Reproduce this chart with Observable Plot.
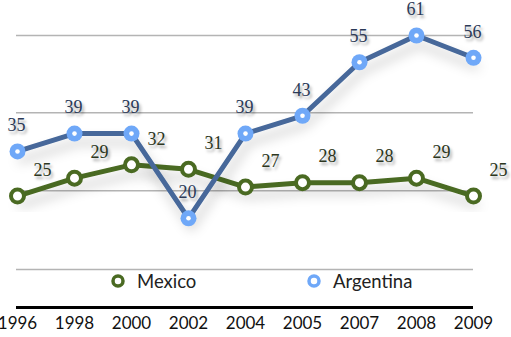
<!DOCTYPE html>
<html>
<head>
<meta charset="utf-8">
<script src="https://cdn.jsdelivr.net/npm/d3@7"></script>
<script src="https://cdn.jsdelivr.net/npm/@observablehq/plot@0.6"></script>
<style>
  body { margin: 0; background: #fff; }
  #wrap { position: relative; width: 511px; height: 337px; overflow: hidden; }
  #legend { position: absolute; top: 269px; left: 0; width: 511px; height: 24px; font-family: Lato, sans-serif; font-size: 18.5px; color: #222; }
  #legend .item { position: absolute; top: 0; display: flex; align-items: center; height: 24px; }
  #legend svg { margin-right: 11px; }
  .lbl text { text-shadow: 2px 3px 3px rgba(0,0,0,0.35); }
</style>
</head>
<body>
<div id="wrap"></div>
<script>
const years = ["1996","1998","2000","2002","2004","2005","2007","2008","2009"];
const mexico = [25, 29, 32, 31, 27, 28, 28, 29, 25];
const argentina = [35, 39, 39, 20, 39, 43, 55, 61, 56];
const gridValues = [8.5, 26.2, 43.7, 61];
const seriesNames = ["Mexico", "Argentina"];
const lineColors = {Mexico: "#4a6a22", Argentina: "#46689a"};
const dotColors = {Mexico: "#4a6a22", Argentina: "#6fa8f8"};
const labelColors = {Mexico: "#2c3620", Argentina: "#2b3a58"};

const mex = years.map((y, i) => ({year: y, value: mexico[i], series: "Mexico"}));
const arg = years.map((y, i) => ({year: y, value: argentina[i], series: "Argentina"}));

const chart = Plot.plot({
  width: 511,
  height: 337,
  marginLeft: 16,
  marginRight: 38,
  marginTop: 35,
  marginBottom: 30,
  style: {background: "transparent", overflow: "visible"},
  x: {type: "point", domain: years, padding: 0, label: null},
  y: {domain: [0, 61], axis: null},
  marks: [
    Plot.ruleY(gridValues, {stroke: "#b4b4b4", strokeWidth: 1.5}),
    Plot.ruleY([0], {stroke: "#000", strokeWidth: 3}),
    Plot.axisX({tickSize: 0, tickPadding: 9, fontSize: 17, fontFamily: "Lato, sans-serif", color: "#111", label: null}),
    Plot.line(mex, {x: "year", y: "value", stroke: lineColors.Mexico, strokeWidth: 5, className: "shadow"}),
    Plot.line(arg, {x: "year", y: "value", stroke: lineColors.Argentina, strokeWidth: 5, className: "shadow"}),
    Plot.dot(mex, {x: "year", y: "value", r: 6.5, fill: "#fff", stroke: dotColors.Mexico, strokeWidth: 4}),
    Plot.dot(arg, {x: "year", y: "value", r: 8, fill: dotColors.Argentina}),
    Plot.dot(arg, {x: "year", y: "value", r: 2.3, fill: "#fff"}),
    Plot.text(arg, {x: "year", y: "value", text: d => String(d.value), dx: -1, dy: -26, fill: labelColors.Argentina, fontSize: 18, fontFamily: "'Liberation Serif', serif", className: "lbl"}),
    Plot.text(mex, {x: "year", y: "value", text: d => String(d.value), dx: 25, dy: -26, fill: labelColors.Mexico, fontSize: 18, fontFamily: "'Liberation Serif', serif", className: "lbl"})
  ]
});

// drop shadow filter for lines
const svgNS = "http://www.w3.org/2000/svg";
const defs = document.createElementNS(svgNS, "defs");
defs.innerHTML = '<filter id="ds" x="-20%" y="-50%" width="140%" height="200%"><feDropShadow dx="3" dy="9" stdDeviation="6" flood-color="#000" flood-opacity="0.22"/></filter>';
chart.insertBefore(defs, chart.firstChild);
chart.querySelectorAll(".shadow").forEach(g => g.setAttribute("filter", "url(#ds)"));

document.getElementById("wrap").appendChild(chart);

// legend
const legend = document.createElement("div");
legend.id = "legend";
const positions = {Mexico: 110, Argentina: 306};
seriesNames.forEach(name => {
  const item = document.createElement("div");
  item.className = "item";
  item.style.left = positions[name] + "px";
  item.innerHTML = `<svg width="16" height="16"><circle cx="8" cy="8" r="5" fill="#fff" stroke="${dotColors[name]}" stroke-width="3.5"/></svg><span>${name}</span>`;
  legend.appendChild(item);
});
document.getElementById("wrap").appendChild(legend);
</script>
</body>
</html>
